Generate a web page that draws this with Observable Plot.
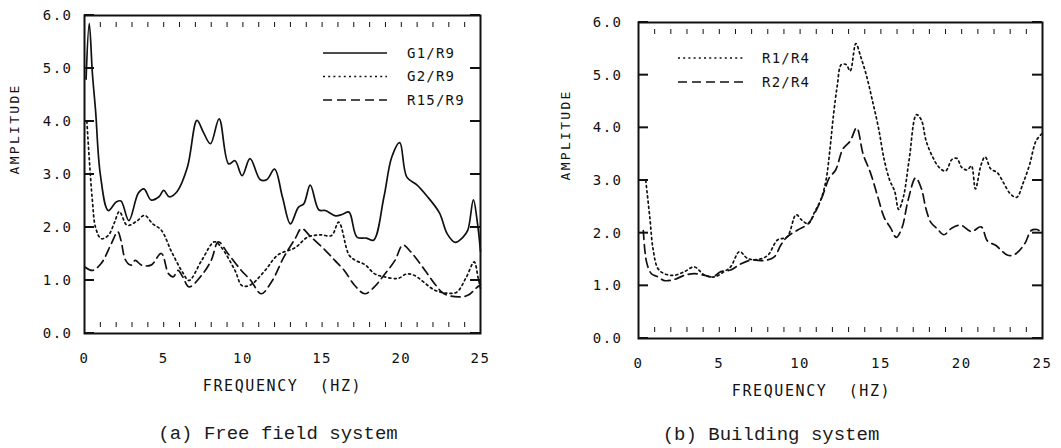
<!DOCTYPE html>
<html><head><meta charset="utf-8">
<script src="https://cdn.jsdelivr.net/npm/d3@7"></script>
<script src="https://cdn.jsdelivr.net/npm/@observablehq/plot@0.6"></script>
<style>
body{margin:0;background:#fff;}
#wrap{position:relative;width:1061px;height:448px;overflow:hidden;background:#fff;}
.panel{position:absolute;top:0;}
.panel svg text{letter-spacing:1.5px;}
.cap{position:absolute;font-family:"Liberation Mono","DejaVu Sans Mono",monospace;font-size:19px;color:#1a1a1a;white-space:pre;transform:translate(-50%,-50%);}
.leg{position:absolute;overflow:visible;}
.leg text{font-family:"DejaVu Sans Mono",monospace;font-size:14px;letter-spacing:1.2px;fill:#111;}
</style></head><body><div id="wrap"></div>
<script>
// ---------- data ----------
const xTicks = [0, 5, 10, 15, 20, 25];
const yTicks = [0, 1, 2, 3, 4, 5, 6];
const minorTicks = d3.range(1, 25);
const xTitle = "FREQUENCY\u00a0 (HZ)";
const yTitle = "AMPLITUDE";
const captionA = "(a) Free field system";
const captionB = "(b) Building system";
const namesA = ["G1/R9", "G2/R9", "R15/R9"];
const namesB = ["R1/R4", "R2/R4"];

// (a) Free field system
const freqG1 = [0.1,0.3,0.5,0.7,1.0,1.5,2.0,2.3,2.8,3.4,3.75,4.2,4.7,5.0,5.35,5.85,6.5,7.1,7.5,7.95,8.5,9.1,9.5,9.95,10.45,11.1,11.5,12.0,12.5,13.0,13.5,13.85,14.25,14.8,15.2,15.85,16.3,16.7,17.2,17.8,18.25,18.9,19.4,19.9,20.35,21.0,21.6,22.4,22.9,23.4,23.9,24.2,24.55,24.8,25.0];
const ampG1  = [4.8,5.85,4.9,4.2,3.0,2.32,2.48,2.5,2.13,2.65,2.73,2.52,2.58,2.7,2.58,2.68,3.14,4.02,3.8,3.58,4.05,3.2,3.26,2.98,3.3,2.9,2.9,3.1,2.57,2.07,2.38,2.45,2.8,2.33,2.32,2.22,2.25,2.29,1.82,1.8,1.76,2.57,3.33,3.6,2.95,2.8,2.6,2.28,1.88,1.72,1.82,1.95,2.52,2.1,1.55];
const freqG2 = [0.15,0.3,0.5,0.7,1.05,1.5,1.9,2.2,2.7,3.3,3.8,4.3,4.85,5.5,6.2,6.6,7.4,8.2,8.6,9.5,9.95,10.5,11.4,12.2,13.3,14.1,14.9,15.6,16.05,16.7,17.1,17.7,18.3,18.9,19.8,20.3,20.8,22.1,22.9,23.5,24.1,24.6,24.85,25.0];
const ampG2  = [4.0,3.3,2.5,2.0,1.79,1.85,2.1,2.3,2.04,2.12,2.23,2.07,1.95,1.54,1.15,1.0,1.38,1.73,1.64,1.19,0.9,0.92,1.19,1.48,1.62,1.82,1.86,1.85,2.1,1.48,1.38,1.3,1.13,1.07,1.04,1.12,1.1,0.82,0.76,0.78,1.06,1.35,1.05,0.85];
const freqR15 = [0.05,0.5,1.05,1.7,2.1,2.3,2.6,2.95,3.2,3.6,4.2,4.85,5.3,5.6,5.9,6.2,6.6,7.4,8.0,8.45,9.05,9.9,10.5,11.15,11.8,12.6,13.3,13.7,14.3,15.2,15.8,16.4,17.05,17.7,18.3,18.9,19.6,20.1,20.6,21.5,22.1,22.7,23.6,24.2,24.7,25.0];
const ampR15  = [1.25,1.19,1.32,1.7,1.92,1.76,1.38,1.29,1.38,1.29,1.29,1.51,1.13,1.07,1.19,1.07,0.88,1.1,1.38,1.73,1.51,1.19,1.0,0.75,0.97,1.45,1.79,1.98,1.82,1.57,1.38,1.19,0.91,0.75,0.88,1.1,1.38,1.67,1.54,1.19,0.94,0.75,0.69,0.72,0.85,0.92];

// (b) Building system
const freqR1 = [0.45,0.7,0.9,1.2,1.6,2.2,2.85,3.45,4.1,4.7,5.3,5.7,6.25,6.75,7.4,8.0,8.6,9.2,9.75,10.1,10.5,10.9,11.3,11.6,11.85,12.05,12.3,12.55,12.85,13.1,13.45,13.75,14.1,14.45,14.85,15.2,15.55,15.85,16.1,16.4,16.75,17.2,17.5,17.8,18.2,18.6,19.0,19.4,19.7,20.0,20.35,20.6,20.85,21.2,21.45,21.8,22.2,22.6,23.0,23.4,23.8,24.2,24.6,25.0];
const ampR1  = [3.0,2.3,1.7,1.33,1.23,1.2,1.27,1.36,1.2,1.17,1.27,1.36,1.65,1.52,1.5,1.58,1.87,1.93,2.35,2.25,2.18,2.4,2.65,3.0,3.6,4.2,4.8,5.2,5.2,5.08,5.6,5.35,5.0,4.55,4.0,3.4,3.0,2.8,2.45,2.7,3.4,4.25,4.15,3.75,3.45,3.25,3.18,3.4,3.42,3.25,3.2,3.28,2.84,3.3,3.45,3.22,3.15,2.95,2.75,2.68,2.95,3.3,3.75,3.9];
const freqR2 = [0.3,0.5,0.8,1.2,1.6,2.2,2.85,3.45,4.1,4.6,5.1,5.7,6.35,7.0,7.8,8.4,8.8,9.2,9.85,10.5,11.1,11.5,11.8,12.2,12.65,13.1,13.5,13.9,14.35,14.8,15.2,15.6,15.95,16.3,16.7,17.15,17.5,17.8,18.1,18.5,18.9,19.4,19.95,20.6,21.2,21.6,22.1,22.85,23.3,23.9,24.3,24.65,25.0];
const ampR2  = [2.05,1.45,1.23,1.17,1.1,1.12,1.2,1.23,1.2,1.17,1.27,1.3,1.42,1.49,1.48,1.55,1.77,1.93,2.06,2.18,2.5,2.8,3.05,3.2,3.6,3.75,4.0,3.5,3.15,2.7,2.3,2.1,1.92,2.1,2.65,3.05,2.85,2.45,2.2,2.08,1.97,2.1,2.15,2.03,2.12,1.85,1.77,1.58,1.6,1.8,2.05,2.07,2.0];

// ---------- styles ----------
const INK = "#111";
const SOLID = null, DOTTED = "2 3.2", DASHED = "9 5";
const TICK_LEN = 10;
const toRows = (f, a) => f.map((v, i) => ({f: v, a: a[i]}));

function panel(opts) {
  const {series, width, mL, mR, mT, mB, yPad, titleDx, yTitleDx} = opts;
  const marks = [
    Plot.axisX({anchor: "top", ticks: minorTicks, tickSize: 5, dy: 11, tickFormat: () => null, label: null, strokeWidth: 1}),
    Plot.axisX({anchor: "bottom", ticks: minorTicks, tickSize: 5, dy: -11, tickFormat: () => null, label: null, strokeWidth: 1}),
    Plot.axisX({anchor: "bottom", ticks: xTicks, tickSize: 0, tickPadding: 20, tickFormat: d => String(d), label: null, fontSize: 14}),
    Plot.axisY({anchor: "left", ticks: yTicks, tickSize: 0, tickPadding: yPad, tickFormat: d3.format(".1f"), label: null, fontSize: 14}),
    Plot.text([xTitle], {frameAnchor: "bottom", text: d => d, dy: 53, dx: titleDx, fontSize: 15, lineAnchor: "middle", fill: INK}),
    Plot.text([yTitle], {frameAnchor: "left", text: d => d, rotate: -90, dx: yTitleDx, fontSize: 13, lineAnchor: "middle", fill: INK}),
    ...series.map(s => Plot.line(toRows(s.f, s.a), {x: "f", y: "a", stroke: INK, strokeWidth: 1.7, strokeDasharray: s.dash, curve: "catmull-rom"})),
    Plot.frame({stroke: INK, strokeWidth: 2})
  ];
  const svg = Plot.plot({
    width, height: 400,
    marginLeft: mL, marginRight: mR, marginTop: mT, marginBottom: mB,
    x: {domain: [0, 25]},
    y: {domain: [0, 6]},
    style: {fontFamily: "'DejaVu Sans Mono', monospace", fontSize: "14px", color: INK, background: "transparent", overflow: "visible"},
    marks
  });
  // inward major y ticks on both sides of the frame, placed with Plot's own scales
  const xs = svg.scale("x"), ys = svg.scale("y");
  const xL = xs.apply(xTicks[0]), xR = xs.apply(xTicks[xTicks.length - 1]);
  const g = d3.select(svg).append("g").attr("stroke", INK).attr("stroke-width", 2).attr("fill", "none");
  yTicks.forEach(v => {
    const y = ys.apply(v);
    g.append("line").attr("x1", xL).attr("x2", xL + TICK_LEN).attr("y1", y).attr("y2", y);
    g.append("line").attr("x1", xR - TICK_LEN).attr("x2", xR).attr("y1", y).attr("y2", y);
  });
  d3.select(svg).selectAll("text").filter(function() { return this.textContent === yTitle; }).style("letter-spacing", "2.3px");
  d3.select(svg).selectAll("text").filter(function() { return this.textContent === xTitle; }).style("letter-spacing", "1.6px");
  return svg;
}

const wrap = document.getElementById("wrap");
function place(node, left) {
  const d = document.createElement("div");
  d.className = "panel"; d.style.left = left + "px";
  d.appendChild(node); wrap.appendChild(d);
}

place(panel({
  width: 530, mL: 84, mR: 50, mT: 15, mB: 67, yPad: 12, titleDx: 0, yTitleDx: -70,
  series: [
    {f: freqG1, a: ampG1, dash: SOLID},
    {f: freqG2, a: ampG2, dash: DOTTED},
    {f: freqR15, a: ampR15, dash: DASHED}
  ]
}), 0);

place(panel({
  width: 531, mL: 108, mR: 19, mT: 22, mB: 62, yPad: 16, titleDx: -29, yTitleDx: -73,
  series: [
    {f: freqR1, a: ampR1, dash: DOTTED},
    {f: freqR2, a: ampR2, dash: DASHED}
  ]
}), 530);

// legends (overlay)
function legend(names, dashes, left, top, lineLen, textGap, rowH) {
  const ns = "http://www.w3.org/2000/svg";
  const svg = document.createElementNS(ns, "svg");
  const w = lineLen + textGap + 120, h = rowH * names.length + 16;
  svg.setAttribute("width", w); svg.setAttribute("height", h);
  svg.setAttribute("class", "leg");
  svg.style.left = left + "px"; svg.style.top = (top - 10) + "px";
  names.forEach((n, i) => {
    const y = 10 + i * rowH;
    const ln = document.createElementNS(ns, "line");
    ln.setAttribute("x1", 0); ln.setAttribute("x2", lineLen);
    ln.setAttribute("y1", y); ln.setAttribute("y2", y);
    ln.setAttribute("stroke", INK); ln.setAttribute("stroke-width", 1.7);
    if (dashes[i]) ln.setAttribute("stroke-dasharray", dashes[i]);
    svg.appendChild(ln);
    const t = document.createElementNS(ns, "text");
    t.setAttribute("x", lineLen + textGap); t.setAttribute("y", y);
    t.setAttribute("dy", "0.35em");
    t.textContent = n;
    svg.appendChild(t);
  });
  wrap.appendChild(svg);
}
legend(namesA, [SOLID, DOTTED, DASHED], 323, 53, 64, 20, 23.5);
legend(namesB, [DOTTED, DASHED], 678, 58, 65, 19, 24);

function caption(text, cx, cy) {
  const d = document.createElement("div");
  d.className = "cap"; d.textContent = text;
  d.style.left = cx + "px"; d.style.top = cy + "px";
  wrap.appendChild(d);
}
caption(captionA, 278, 434);
caption(captionB, 771, 435);
</script></body></html>
